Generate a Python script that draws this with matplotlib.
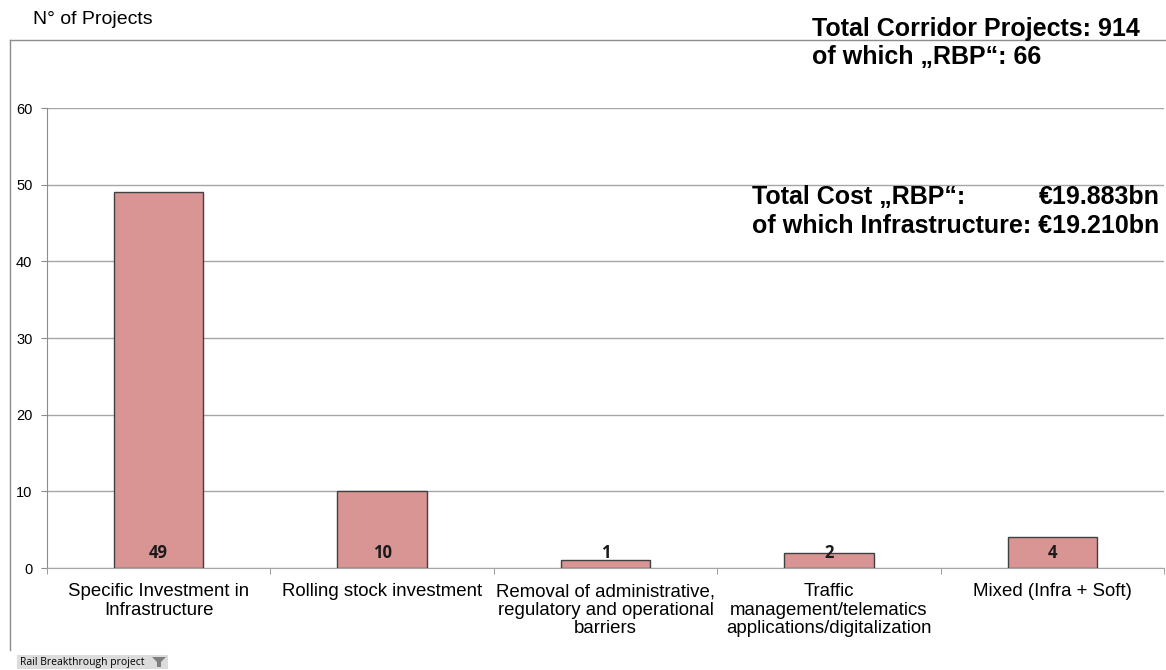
import numpy as np
import matplotlib
matplotlib.use("Agg")
import matplotlib.pyplot as plt
from matplotlib.patches import Rectangle, Polygon
from matplotlib.lines import Line2D

# data
categories = ["Specific Investment in\nInfrastructure",
              "Rolling stock investment",
              "Removal of administrative,\nregulatory and operational\nbarriers",
              "Traffic\nmanagement/telematics\napplications/digitalization",
              "Mixed (Infra + Soft)"]
counts = [49, 10, 1, 2, 4]
yticks = [0, 10, 20, 30, 40, 50, 60]

plt.rcParams['font.family'] = ['Liberation Sans', 'DejaVu Sans']

fig = plt.figure(figsize=(11.66, 6.70), dpi=100)
W, H = 1166, 670

# outer chart frame (excel style)
fig.add_artist(Line2D([10 / W, 10 / W], [1 - 650 / H, 1 - 40 / H], color='#8c8c8c', lw=1))
fig.add_artist(Line2D([10 / W, 1], [1 - 40 / H, 1 - 40 / H], color='#8c8c8c', lw=1))

ax = fig.add_axes([47 / W, 1 - 568 / H, (1164 - 47) / W, (568 - 108) / H])
x = np.arange(len(categories))
ax.bar(x, counts, width=0.40, color='#d99594', edgecolor='#404040', linewidth=1, zorder=3)

for xi, v in zip(x, counts):
    ax.text(xi, 2.0, str(v), ha='center', va='center', fontsize=12,
            fontweight='bold', family=['Open Sans', 'DejaVu Sans'], color='#1a1a1a', zorder=4)

ax.set_xlim(-0.5, len(categories) - 0.5)
ax.set_ylim(0, 60)
ax.set_yticks(yticks)
ax.yaxis.grid(True, color='#a6a6a6', linewidth=1)
ax.set_axisbelow(True)
for s in ['top', 'right']:
    ax.spines[s].set_visible(False)
ax.spines['left'].set_color('#8c8c8c')
ax.spines['bottom'].set_color('#a6a6a6')
ax.tick_params(axis='y', length=4.5, color='#8c8c8c', labelsize=10.5, pad=6)
ax.set_xticks(x)
ax.set_xticklabels(categories, fontsize=13.4, linespacing=1.1)
ax.tick_params(axis='x', length=0, pad=11)
ax.set_xticks(np.arange(-0.5, len(categories), 1.0), minor=True)
ax.tick_params(axis='x', which='minor', length=4.5, color='#8c8c8c')

# annotations
fig.text(33 / W, 1 - 20 / H, "N° of Projects", fontsize=14, ha='left', va='center')
fig.text(812 / W, 1 - 29 / H, "Total Corridor Projects: 914", fontsize=18,
         fontweight='bold', ha='left', va='center')
fig.text(812 / W, 1 - 57 / H, "of which \u201eRBP\u201c: 66", fontsize=18,
         fontweight='bold', ha='left', va='center')
fig.text(752 / W, 1 - 197 / H, "Total Cost \u201eRBP\u201c:", fontsize=18,
         fontweight='bold', ha='left', va='center')
fig.text(1160 / W, 1 - 197 / H, "\u20ac19.883bn", fontsize=18,
         fontweight='bold', ha='right', va='center')
fig.text(752 / W, 1 - 226 / H, "of which Infrastructure: \u20ac19.210bn", fontsize=18,
         fontweight='bold', ha='left', va='center')

# filter button
fig.add_artist(Rectangle((17 / W, 1 - 669 / H), 151 / W, 14 / H, facecolor='#dcdcdc',
                         edgecolor='none', transform=fig.transFigure))
fig.text(20 / W, 1 - 662 / H, "Rail Breakthrough project", fontsize=7.5,
         family=['Open Sans', 'DejaVu Sans'], ha='left', va='center')
fig.add_artist(Polygon([[152 / W, 1 - 657 / H], [166 / W, 1 - 657 / H], [161 / W, 1 - 662 / H],
                        [161 / W, 1 - 667 / H], [157 / W, 1 - 667 / H], [157 / W, 1 - 662 / H]],
                       closed=True, facecolor='#7f7f7f', edgecolor='none', transform=fig.transFigure))

fig.savefig("out.png", dpi=100)
